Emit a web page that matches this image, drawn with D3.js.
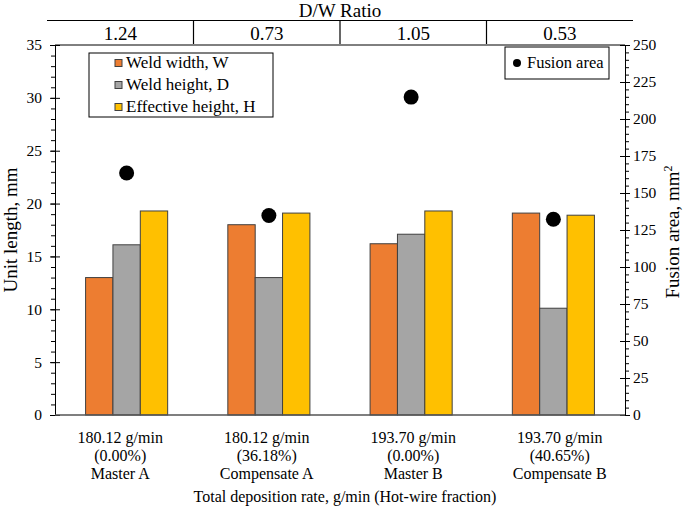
<!DOCTYPE html>
<html><head><meta charset="utf-8">
<script src="https://cdn.jsdelivr.net/npm/d3@7"></script>
<style>body{margin:0;background:#fff}svg text{font-family:"Liberation Serif","Times New Roman",serif !important}</style>
</head><body>
<svg id="c" width="685" height="510"></svg>
<script>
const categories = ["Master A","Compensate A","Master B","Compensate B"];
const rateLabels = ["180.12 g/min","180.12 g/min","193.70 g/min","193.70 g/min"];
const fractionLabels = ["(0.00%)","(36.18%)","(0.00%)","(40.65%)"];
const dwRatio = ["1.24","0.73","1.05","0.53"];
const seriesNames = ["Weld width, W","Weld height, D","Effective height, H"];
const weldWidth = [13.0, 18.0, 16.2, 19.1];
const weldHeight = [16.1, 13.0, 17.1, 10.1];
const effectiveHeight = [19.3, 19.1, 19.3, 18.9];
const fusionArea = [163.5, 134.8, 214.8, 132.3];
const leftTicks = [0,5,10,15,20,25,30,35];
const rightTicks = [0,25,50,75,100,125,150,175,200,225,250];
const colors = ["#ED7D31","#A5A5A5","#FFC000"];

const FONT = "'Liberation Serif','Times New Roman',serif";
const svg = d3.select("#c");
const L = 55, R = 625, T = 45, B = 415;
const seriesVals = [weldWidth, weldHeight, effectiveHeight];

const x = d3.scaleBand().domain(categories).range([L, R]).paddingInner(0.423).paddingOuter(0.215);
const xs = d3.scaleBand().domain(d3.range(3)).range([0, x.bandwidth()]);
const yL = d3.scaleLinear().domain([0, 35]).range([B, T]);
const yR = d3.scaleLinear().domain([0, 250]).range([B, T]);
const xh = d3.scaleBand().domain(categories).range([47, 633]);

function txt(sel){ return sel.attr("font-family", FONT).attr("fill","#000"); }

// header table
svg.append("line").attr("x1",47).attr("x2",633).attr("y1",20.5).attr("y2",20.5).attr("stroke","#000").attr("stroke-width",1.2);
svg.selectAll(".div").data(categories.slice(1)).join("line")
  .attr("x1",d=>xh(d)).attr("x2",d=>xh(d)).attr("y1",20.5).attr("y2",44).attr("stroke","#000").attr("stroke-width",1.2);
txt(svg.append("text").attr("x",340).attr("y",17).attr("text-anchor","middle").attr("font-size",19).text("D/W Ratio"));
txt(svg.selectAll(".ratio").data(dwRatio).join("text")
  .attr("x",(d,i)=>xh(categories[i])+xh.bandwidth()/2).attr("y",40).attr("text-anchor","middle").attr("font-size",19).text(d=>d));

// frame top
svg.append("line").attr("x1",L).attr("x2",R).attr("y1",T).attr("y2",T).attr("stroke","#000");

// bars
seriesVals.forEach((vals, s) => {
  svg.append("g").selectAll("rect").data(vals).join("rect")
    .attr("x",(d,i)=>x(categories[i]) + xs(s))
    .attr("y",d=>yL(d))
    .attr("width",xs.bandwidth())
    .attr("height",d=>B - yL(d))
    .attr("fill",colors[s]).attr("stroke","#404040").attr("stroke-width",1);
});

// dots
svg.append("g").selectAll("circle").data(fusionArea).join("circle")
  .attr("cx",(d,i)=>x(categories[i]) + x.bandwidth()/2)
  .attr("cy",d=>yR(d)).attr("r",7.5).attr("fill","#000");

// left axis
const gl = svg.append("g").attr("transform",`translate(${L},0)`);
gl.call(d3.axisLeft(yL).tickValues(d3.range(0,36,1)).tickSize(4).tickFormat(""));
const gl2 = svg.append("g").attr("transform",`translate(${L},0)`);
gl2.call(d3.axisLeft(yL).tickValues(leftTicks).tickSize(5).tickPadding(8).tickFormat(d3.format("d")));
gl2.selectAll(".tick line").attr("x1",5);
gl2.selectAll("text").attr("font-size",15.5).call(txt);

// right axis
const gr = svg.append("g").attr("transform",`translate(${R},0)`);
gr.call(d3.axisRight(yR).tickValues(d3.range(0,251,5)).tickSize(4).tickFormat(""));
const gr2 = svg.append("g").attr("transform",`translate(${R},0)`);
gr2.call(d3.axisRight(yR).tickValues(rightTicks).tickSize(5).tickPadding(3).tickFormat(d3.format("d")));
gr2.selectAll(".tick line").attr("x1",-5);
gr2.selectAll("text").attr("font-size",15.5).call(txt);
svg.selectAll(".domain").attr("stroke","#000");
svg.selectAll(".tick line").attr("stroke","#000");
gr.select(".domain").remove(); gl.select(".domain").remove();

// bottom axis line
svg.append("line").attr("x1",L).attr("x2",R).attr("y1",B).attr("y2",B).attr("stroke","#555").attr("stroke-width",1.5);

// x labels
const xl = svg.append("g");
categories.forEach((c,i)=>{
  const cx = xh(c)+xh.bandwidth()/2;
  [rateLabels[i], fractionLabels[i], c].forEach((t,j)=>{
    txt(xl.append("text").attr("x",cx).attr("y",443+j*18).attr("text-anchor","middle").attr("font-size",16).text(t));
  });
});
txt(svg.append("text").attr("x",345).attr("y",502).attr("text-anchor","middle").attr("font-size",16)
  .text("Total deposition rate, g/min (Hot-wire fraction)"));

// axis titles
txt(svg.append("text").attr("transform","translate(17,230) rotate(-90)").attr("text-anchor","middle").attr("font-size",19).text("Unit length, mm"));
const rt = txt(svg.append("text").attr("transform","translate(679,232) rotate(-90)").attr("text-anchor","middle").attr("font-size",19));
rt.append("tspan").text("Fusion area, mm");
rt.append("tspan").attr("dy",-7).attr("font-size",12).text("2");

// legend 1
const lg = svg.append("g");
lg.append("rect").attr("x",89).attr("y",53).attr("width",184).attr("height",64).attr("fill","#fff").attr("stroke","#000");
seriesNames.forEach((n,i)=>{
  const yy = 63 + i*22;
  lg.append("rect").attr("x",115).attr("y",yy-3.5).attr("width",7).attr("height",7).attr("fill",colors[i]).attr("stroke","#404040");
  txt(lg.append("text").attr("x",126).attr("y",yy+4.5).attr("font-size",17).text(n));
});

// legend 2
const lg2 = svg.append("g");
lg2.append("rect").attr("x",505).attr("y",47).attr("width",104).attr("height",32).attr("fill","#fff").attr("stroke","#000");
lg2.append("circle").attr("cx",517).attr("cy",63).attr("r",4).attr("fill","#000");
txt(lg2.append("text").attr("x",527).attr("y",68).attr("font-size",16.5).text("Fusion area"));
</script>
</body></html>
